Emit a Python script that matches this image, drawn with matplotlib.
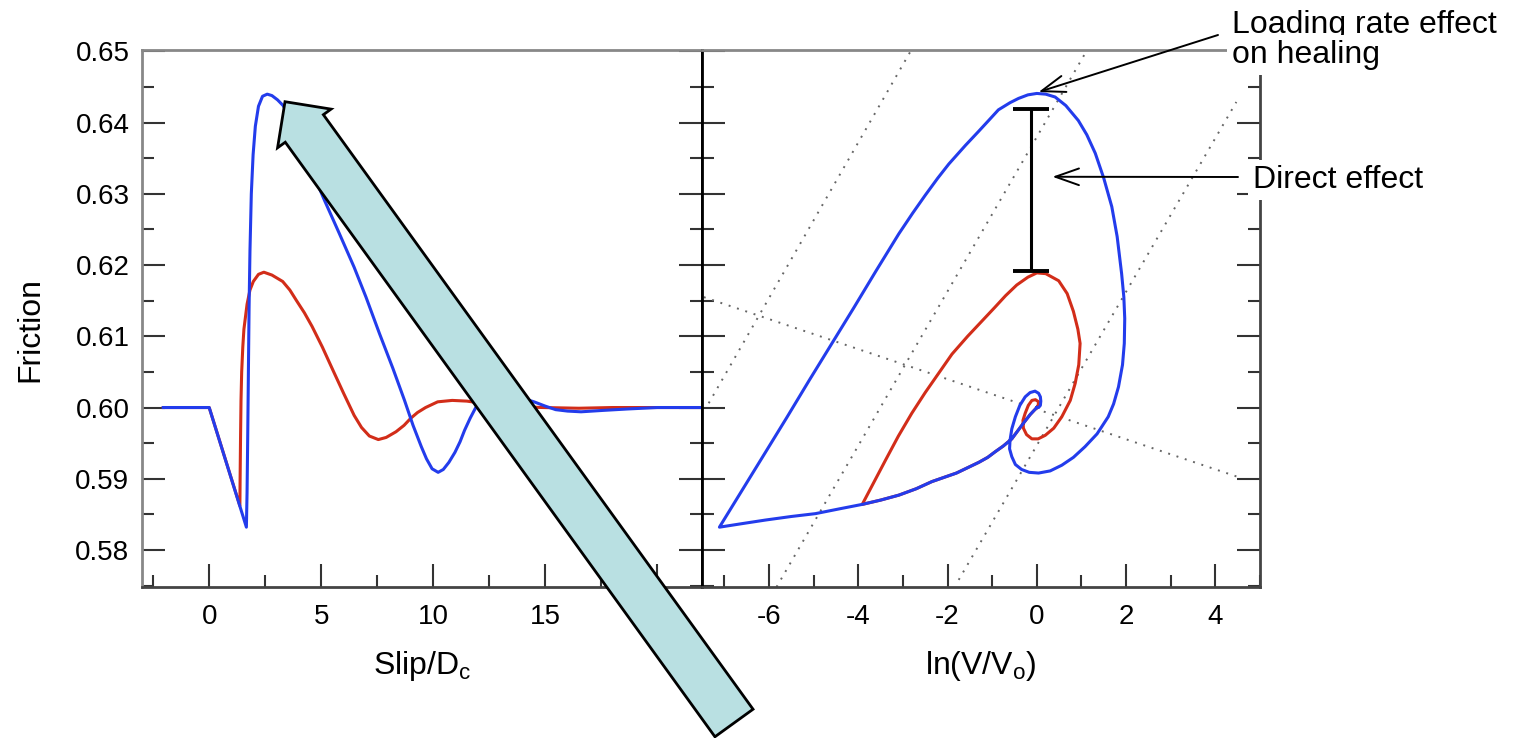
import numpy as np
import matplotlib.pyplot as plt
from matplotlib.patches import FancyArrow
from matplotlib.transforms import IdentityTransform
from matplotlib.ticker import MultipleLocator, FormatStrFormatter

plt.rcParams['font.family'] = ['Liberation Sans', 'DejaVu Sans']
plt.rcParams['axes.unicode_minus'] = False

BLUE = '#233cec'
RED = '#d22d19'

# left panel: friction vs slip/Dc
slip_blue = [-2.05, 0.0, 1.66, 1.69, 1.72, 1.75, 1.78, 1.82, 1.88, 1.96, 2.06, 2.2, 2.38,
             2.59, 2.8, 3.05, 3.3, 3.6, 4.0, 4.59, 5.16, 5.8, 6.47, 7.0, 7.6, 8.2, 8.72,
             9.1, 9.47, 9.7, 9.95, 10.22, 10.45, 10.7, 10.97, 11.2, 11.4, 11.65, 11.9,
             12.2, 12.6, 13.2, 13.8, 14.5, 15.0, 15.47, 16.0, 16.6, 17.6, 18.7, 20.0, 22.0]
fric_blue = [0.600, 0.600, 0.5832, 0.5880, 0.5960, 0.6050, 0.6140, 0.6220, 0.6300, 0.6355,
             0.6395, 0.6423, 0.6437, 0.6440, 0.6438, 0.6432, 0.6424, 0.6408, 0.6378,
             0.6332, 0.6290, 0.6245, 0.6197, 0.6155, 0.6104, 0.6055, 0.6010, 0.5975,
             0.5945, 0.5928, 0.5914, 0.5909, 0.5913, 0.5923, 0.5937, 0.5952, 0.5968,
             0.5985, 0.6000, 0.6010, 0.6018, 0.6020, 0.6015, 0.6008, 0.6002, 0.5997,
             0.5995, 0.5994, 0.5996, 0.5998, 0.600, 0.600]

slip_red = [-2.05, 0.0, 1.37, 1.38, 1.40, 1.42, 1.45, 1.50, 1.55, 1.69, 1.82, 1.97, 2.2,
            2.44, 2.8, 3.28, 3.6, 3.9, 4.25, 4.59, 5.05, 5.53, 6.0, 6.47, 6.8, 7.15, 7.55,
            7.9, 8.34, 8.7, 9.0, 9.3, 9.66, 10.2, 10.85, 11.5, 12.2, 13.0, 14.0, 14.9,
            16.5, 18.0, 22.0]
fric_red = [0.600, 0.600, 0.5862, 0.5900, 0.5960, 0.6010, 0.6050, 0.6085, 0.6110, 0.6145,
            0.6165, 0.6177, 0.6187, 0.6190, 0.6186, 0.6177, 0.6165, 0.6150, 0.6133,
            0.6114, 0.6085, 0.6052, 0.6020, 0.5989, 0.5972, 0.5960, 0.5955, 0.5958,
            0.5966, 0.5975, 0.5985, 0.5993, 0.6000, 0.6008, 0.6010, 0.6009, 0.6006,
            0.6003, 0.6001, 0.6000, 0.5999, 0.600, 0.600]

# right panel: friction vs ln(V/Vo), path in time order
lnv_blue = [0.0, -0.15, -0.30, -0.43, -0.56, -0.75, -0.93, -1.10, -1.30, -1.8, -2.35,
            -2.7, -3.09, -3.5, -3.91, -4.4, -4.96, -5.5, -6.08, -6.6, -7.11,
            -6.6, -6.08, -5.6, -5.1, -4.6, -4.1, -3.6, -3.09, -2.78, -2.5, -2.22, -1.97,
            -1.6, -1.30, -1.05, -0.86, -0.6, -0.41, -0.2, 0.0, 0.2, 0.41, 0.65, 0.93,
            1.12, 1.31, 1.5, 1.68, 1.80, 1.90, 1.95, 1.97, 1.96, 1.92, 1.83, 1.72, 1.60,
            1.35, 1.08, 0.82, 0.56, 0.30, 0.04, -0.17, -0.34, -0.48, -0.56, -0.61, -0.60,
            -0.56, -0.48, -0.38, -0.26, -0.15, -0.04, 0.04, 0.08, 0.09, 0.08, 0.04, 0.0]
mu_blue = [0.600, 0.5990, 0.5978, 0.5967, 0.5956, 0.5946, 0.5938, 0.5930, 0.5923, 0.5908,
           0.5896, 0.5886, 0.5877, 0.5870, 0.5864, 0.5858, 0.5851, 0.5847, 0.5842, 0.5837,
           0.5832,
           0.5884, 0.5937, 0.5986, 0.6038, 0.6089, 0.6140, 0.6192, 0.6244, 0.6273, 0.6298,
           0.6322, 0.6342, 0.6368, 0.6388, 0.6405, 0.6418, 0.6428, 0.6434, 0.6439, 0.6441,
           0.6440, 0.6436, 0.6424, 0.6403, 0.6383, 0.6357, 0.6322, 0.6282, 0.6240, 0.6188,
           0.6155, 0.6125, 0.6090, 0.6060, 0.6029, 0.6005, 0.5987, 0.5963, 0.5945, 0.5930,
           0.5919, 0.5911, 0.5908, 0.5909, 0.5913, 0.5920, 0.5931, 0.5942, 0.5954, 0.5970,
           0.5987, 0.6003, 0.6015, 0.6021, 0.6023, 0.6020, 0.6015, 0.6009, 0.6003, 0.6000,
           0.600]

lnv_red = [0.0, -0.15, -0.30, -0.43, -0.56, -0.75, -0.93, -1.10, -1.30, -1.8, -2.35,
           -2.7, -3.09, -3.5, -3.91,
           -3.65, -3.39, -3.1, -2.80, -2.5, -2.20, -1.9, -1.55, -1.25, -0.95, -0.7,
           -0.45, -0.2, 0.0, 0.2, 0.49, 0.68, 0.82, 0.92, 0.97, 0.94, 0.86, 0.75, 0.56,
           0.38, 0.19, 0.03, -0.11, -0.23, -0.30, -0.31, -0.26, -0.19, -0.11, -0.03,
           0.04, 0.03, 0.0]
mu_red = [0.600, 0.5990, 0.5978, 0.5967, 0.5956, 0.5946, 0.5938, 0.5930, 0.5923, 0.5908,
          0.5896, 0.5886, 0.5877, 0.5870, 0.5864,
          0.5895, 0.5926, 0.5960, 0.5992, 0.6021, 0.6048, 0.6075, 0.6100, 0.6120, 0.6140,
          0.6157, 0.6172, 0.6183, 0.6189, 0.6188, 0.6178, 0.6160, 0.6135, 0.6110, 0.6090,
          0.6060, 0.6034, 0.6010, 0.5987, 0.5971, 0.5961, 0.5956, 0.5956, 0.5962, 0.5971,
          0.5982, 0.5992, 0.6003, 0.6010, 0.6011, 0.6008, 0.6003, 0.600]

# dotted guide lines (endpoints)
guide_x = [(-7.35, -2.83), (-5.83, 1.09), (-1.75, 4.47), (-7.46, 4.58)]
guide_y = [(0.6006, 0.6500), (0.5748, 0.6498), (0.5758, 0.6429), (0.6155, 0.5901)]

# "direct effect" bar
bar_x = -0.13
bar_lo, bar_hi = 0.6191, 0.6419

YLIM = (0.5748, 0.6502)

W, H = 1514, 738
fig = plt.figure(figsize=(W / 100, H / 100), dpi=100)
ax1 = fig.add_axes([142 / W, 1 - 587 / H, 560 / W, 537 / H])
ax2 = fig.add_axes([702 / W, 1 - 587 / H, 558 / W, 537 / H])

ax1.plot(slip_red, fric_red, color=RED, lw=2.2)
ax1.plot(slip_blue, fric_blue, color=BLUE, lw=2.2)
ax1.set_xlim(-3, 22)
ax1.set_ylim(*YLIM)
ax1.xaxis.set_major_locator(MultipleLocator(5))
ax1.xaxis.set_minor_locator(MultipleLocator(2.5))
ax1.yaxis.set_major_locator(MultipleLocator(0.01))
ax1.yaxis.set_minor_locator(MultipleLocator(0.005))
ax1.yaxis.set_major_formatter(FormatStrFormatter('%.2f'))

for gx, gy in zip(guide_x, guide_y):
    ax2.plot(gx, gy, color='#666666', lw=1.4, ls=(0, (1, 3.5)))
ax2.plot(lnv_red, mu_red, color=RED, lw=2.2)
ax2.plot(lnv_blue, mu_blue, color=BLUE, lw=2.2)
ax2.errorbar([bar_x], [(bar_lo + bar_hi) / 2], yerr=[[(bar_hi - bar_lo) / 2], [(bar_hi - bar_lo) / 2]],
             color='black', lw=2.2, capsize=13, capthick=2.8)
ax2.set_xlim(-7.5, 5)
ax2.set_ylim(*YLIM)
ax2.xaxis.set_major_locator(MultipleLocator(2))
ax2.xaxis.set_minor_locator(MultipleLocator(1))
ax2.yaxis.set_major_locator(MultipleLocator(0.01))
ax2.yaxis.set_minor_locator(MultipleLocator(0.005))
ax2.tick_params(axis='y', labelleft=False)

for ax in (ax1, ax2):
    ax.tick_params(which='both', direction='in', left=True, right=True, top=False,
                   bottom=True, labelsize=20, color='#333333', width=1.5)
    ax.tick_params(which='major', length=16.5)
    ax.tick_params(which='minor', length=8.6)
    ax.tick_params(axis='x', pad=12)
    ax.tick_params(axis='y', pad=9)
    ax.spines['top'].set_color('#888888')
    ax.spines['bottom'].set_color('#444444')
    for s in ax.spines.values():
        s.set_linewidth(2)
ax1.spines['left'].set_color('#888888')
ax1.spines['right'].set_color('black')
ax2.spines['left'].set_color('black')
ax2.spines['right'].set_color('#444444')

ax1.set_xlabel('Slip/D$_{\\mathregular{c}}$', fontsize=23, labelpad=14)
ax2.set_xlabel('ln(V/V$_{\\mathregular{o}}$)', fontsize=23, labelpad=14)
fig.text(30 / W, 1 - 330 / H, 'Friction', rotation=90, ha='center', va='center', fontsize=23)

# annotations on the phase plot
box = dict(facecolor='white', edgecolor='none', pad=4)
fig.text(1232 / W, 1 - 33 / H, 'Loading rate effect', fontsize=23, va='baseline', bbox=box)
fig.text(1232 / W, 1 - 63 / H, 'on healing', fontsize=23, va='baseline', bbox=box)
fig.text(1253 / W, 1 - 188 / H, 'Direct effect', fontsize=23, va='baseline', bbox=box)

head = dict(arrowstyle='->,head_length=1.7,head_width=0.6', color='black', lw=1.4,
            shrinkA=0, shrinkB=0, mutation_scale=10)
ax2.annotate('', xy=(0.04, 0.6443), xytext=(1218, H - 35), textcoords='figure pixels',
             arrowprops=head, annotation_clip=False)
ax2.annotate('', xy=(0.35, 0.6324), xytext=(1238, H - 177), textcoords='figure pixels',
             arrowprops=head, annotation_clip=False)

# big overlay arrow (figure pixels)
tail = (734, H - 723)
tip = (285, H - 101.7)
big = FancyArrow(tail[0], tail[1], tip[0] - tail[0], tip[1] - tail[1], width=47,
                 head_width=66, head_length=33, length_includes_head=True,
                 transform=IdentityTransform(), facecolor='#b9e0e2', edgecolor='black',
                 lw=2, zorder=20)
fig.add_artist(big)

fig.savefig('out.png', dpi=100)
